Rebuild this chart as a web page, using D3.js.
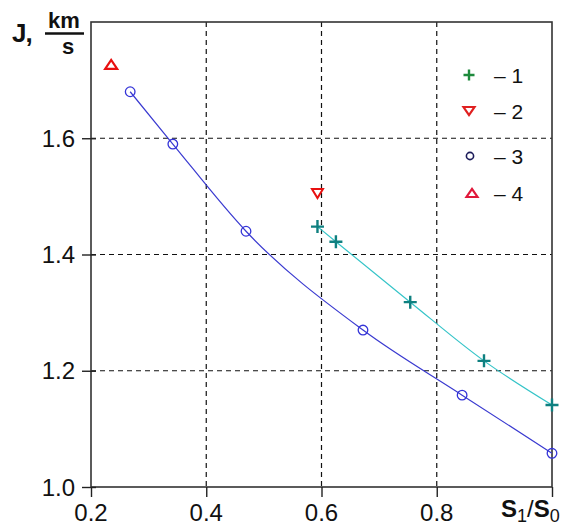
<!DOCTYPE html>
<html>
<head>
<meta charset="utf-8">
<script src="https://cdn.jsdelivr.net/npm/d3@7"></script>
<style>
  body { margin: 0; background: #fff; }
  svg { display: block; font-family: Arial, "Liberation Sans", sans-serif; }
</style>
</head>
<body>
<div id="chart"></div>
<script>
// data
var xTicks = [0.2, 0.4, 0.6, 0.8];
var yTicks = [1.0, 1.2, 1.4, 1.6];
var xGrid = [0.4, 0.6, 0.8];
var yGrid = [1.2, 1.4, 1.6];

var s1x = [0.593, 0.625, 0.754, 0.882, 1.0];
var s1y = [1.448, 1.422, 1.318, 1.217, 1.141];
var s2x = [0.593];
var s2y = [1.505];
var s3x = [0.268, 0.342, 0.469, 0.672, 0.844, 1.0];
var s3y = [1.680, 1.590, 1.440, 1.270, 1.158, 1.058];
var s4x = [0.235];
var s4y = [1.727];

var legendLabels = ['\u2013 1', '\u2013 2', '\u2013 3', '\u2013 4'];

(function () {
	var width = 576, height = 527;
	var x = d3.scaleLinear().domain([0.2, 1.0]).range([91, 552]);
	var y = d3.scaleLinear().domain([1.0, 1.8]).range([487, 22]);

	var svg = d3.select('#chart').append('svg')
		.attr('width', width).attr('height', height);

	svg.append('rect').attr('width', width).attr('height', height).attr('fill', '#fff');

	// dashed grid
	svg.selectAll('.gx').data(xGrid).enter().append('line')
		.attr('x1', d => x(d)).attr('x2', d => x(d))
		.attr('y1', y(1.8)).attr('y2', y(1.0))
		.attr('stroke', '#111').attr('stroke-width', 1.2)
		.attr('stroke-dasharray', '5 4');
	svg.selectAll('.gy').data(yGrid).enter().append('line')
		.attr('x1', x(0.2)).attr('x2', x(1.0))
		.attr('y1', d => y(d)).attr('y2', d => y(d))
		.attr('stroke', '#111').attr('stroke-width', 1.2)
		.attr('stroke-dasharray', '5 4');

	// frame
	svg.append('rect')
		.attr('x', x(0.2)).attr('y', y(1.8))
		.attr('width', x(1.0) - x(0.2)).attr('height', y(1.0) - y(1.8))
		.attr('fill', 'none').attr('stroke', '#333').attr('stroke-width', 1.6);

	// axes with outward ticks
	var xAxis = svg.append('g').attr('transform', 'translate(0,' + y(1.0) + ')')
		.call(d3.axisBottom(x).tickValues(xTicks.concat([1.0])).tickSize(10).tickSizeOuter(0).tickFormat(''));
	xAxis.select('.domain').remove();
	xAxis.selectAll('line').attr('stroke', '#222').attr('stroke-width', 1.4);

	var yAxis = svg.append('g').attr('transform', 'translate(' + x(0.2) + ',0)')
		.call(d3.axisLeft(y).tickValues(yTicks).tickSize(9).tickSizeOuter(0).tickFormat(''));
	yAxis.select('.domain').remove();
	yAxis.selectAll('line').attr('stroke', '#222').attr('stroke-width', 1.4);
	yAxis.selectAll('.tick').append('line')
		.attr('x1', 0).attr('x2', 5).attr('stroke', '#222').attr('stroke-width', 1.4);

	svg.selectAll('.xl').data(xTicks).enter().append('text')
		.attr('x', d => x(d)).attr('y', 521)
		.attr('text-anchor', 'middle').attr('font-size', 24).attr('fill', '#111')
		.text(d => d3.format('.1f')(d));
	svg.selectAll('.yl').data(yTicks).enter().append('text')
		.attr('x', 75).attr('y', d => y(d) + 8.5)
		.attr('text-anchor', 'end').attr('font-size', 24).attr('fill', '#111')
		.text(d => d3.format('.1f')(d));

	// axis titles
	var xt = svg.append('text').attr('x', 501).attr('y', 517)
		.attr('font-size', 24).attr('font-weight', 'bold').attr('fill', '#111');
	xt.append('tspan').text('S');
	xt.append('tspan').attr('dy', 5).attr('font-size', 18).attr('font-weight', 'normal').text('1');
	xt.append('tspan').attr('dy', -5).attr('font-weight', 'normal').text('/');
	xt.append('tspan').text('S');
	xt.append('tspan').attr('dy', 5).attr('font-size', 18).attr('font-weight', 'normal').text('0');

	svg.append('text').attr('x', 12).attr('y', 42)
		.attr('font-size', 26).attr('font-weight', 'bold').attr('fill', '#111')
		.attr('letter-spacing', -1).text('J,');
	svg.append('text').attr('x', 64).attr('y', 28).attr('text-anchor', 'middle')
		.attr('font-size', 22).attr('font-weight', 'bold').attr('fill', '#111').text('km');
	svg.append('line').attr('x1', 45).attr('x2', 84).attr('y1', 33.5).attr('y2', 33.5)
		.attr('stroke', '#111').attr('stroke-width', 2.5);
	svg.append('text').attr('x', 68).attr('y', 54).attr('text-anchor', 'middle')
		.attr('font-size', 22).attr('font-weight', 'bold').attr('fill', '#111').text('s');

	// series lines
	var s1 = s1x.map((v, i) => [v, s1y[i]]);
	var s3 = s3x.map((v, i) => [v, s3y[i]]);
	var line = d3.line().x(d => x(d[0])).y(d => y(d[1])).curve(d3.curveMonotoneX);

	svg.append('path').attr('d', line(s3))
		.attr('fill', 'none').attr('stroke', '#3a3ad0').attr('stroke-width', 1.2);
	svg.append('path').attr('d', line(s1))
		.attr('fill', 'none').attr('stroke', '#35c4c8').attr('stroke-width', 1.2);

	function plusPath(s) { return 'M' + (-s) + ',0H' + s + 'M0,' + (-s) + 'V' + s; }
	function triPath(s, h, down) {
		return down ? 'M' + (-s) + ',' + (-h / 2) + 'H' + s + 'L0,' + (h / 2) + 'Z'
			: 'M' + (-s) + ',' + (h / 2) + 'H' + s + 'L0,' + (-h / 2) + 'Z';
	}

	svg.selectAll('.c3').data(s3).enter().append('circle')
		.attr('cx', d => x(d[0])).attr('cy', d => y(d[1])).attr('r', 4.8)
		.attr('fill', 'none').attr('stroke', '#3535d8').attr('stroke-width', 1.3);

	svg.selectAll('.p1').data(s1).enter().append('path')
		.attr('transform', d => 'translate(' + x(d[0]) + ',' + y(d[1]) + ')')
		.attr('d', plusPath(6.5))
		.attr('fill', 'none').attr('stroke', '#0f8080').attr('stroke-width', 2.4);

	svg.selectAll('.t2').data(s2x.map((v, i) => [v, s2y[i]])).enter().append('path')
		.attr('transform', d => 'translate(' + x(d[0]) + ',' + y(d[1]) + ')')
		.attr('d', triPath(5.5, 9, true))
		.attr('fill', '#fff').attr('stroke', '#e81010').attr('stroke-width', 2);

	svg.selectAll('.t4').data(s4x.map((v, i) => [v, s4y[i]])).enter().append('path')
		.attr('transform', d => 'translate(' + x(d[0]) + ',' + y(d[1]) + ')')
		.attr('d', triPath(6, 9, false))
		.attr('fill', '#fff').attr('stroke', '#e81010').attr('stroke-width', 2.2);

	// legend
	var legY = [75, 111, 156, 193];
	var leg = svg.selectAll('.leg').data(legendLabels).enter().append('g')
		.attr('transform', (d, i) => 'translate(0,' + legY[i] + ')');
	leg.append('text').attr('x', 494).attr('y', 7.5).attr('font-size', 21).attr('fill', '#111')
		.text(d => d);

	leg.filter((d, i) => i === 0).append('path')
		.attr('transform', 'translate(469,0)').attr('d', plusPath(5.5))
		.attr('stroke', '#1e8a3c').attr('stroke-width', 2.4);
	leg.filter((d, i) => i === 1).append('path')
		.attr('transform', 'translate(469,0)').attr('d', triPath(5.5, 8, true))
		.attr('fill', '#fff').attr('stroke', '#e02020').attr('stroke-width', 2.2);
	leg.filter((d, i) => i === 2).append('circle')
		.attr('cx', 470).attr('r', 3.6)
		.attr('fill', 'none').attr('stroke', '#1c1c5a').attr('stroke-width', 1.6);
	leg.filter((d, i) => i === 3).append('path')
		.attr('transform', 'translate(472,0)').attr('d', triPath(5.5, 8, false))
		.attr('fill', '#fff').attr('stroke', '#e0183a').attr('stroke-width', 2.2);
})();
</script>
</body>
</html>
